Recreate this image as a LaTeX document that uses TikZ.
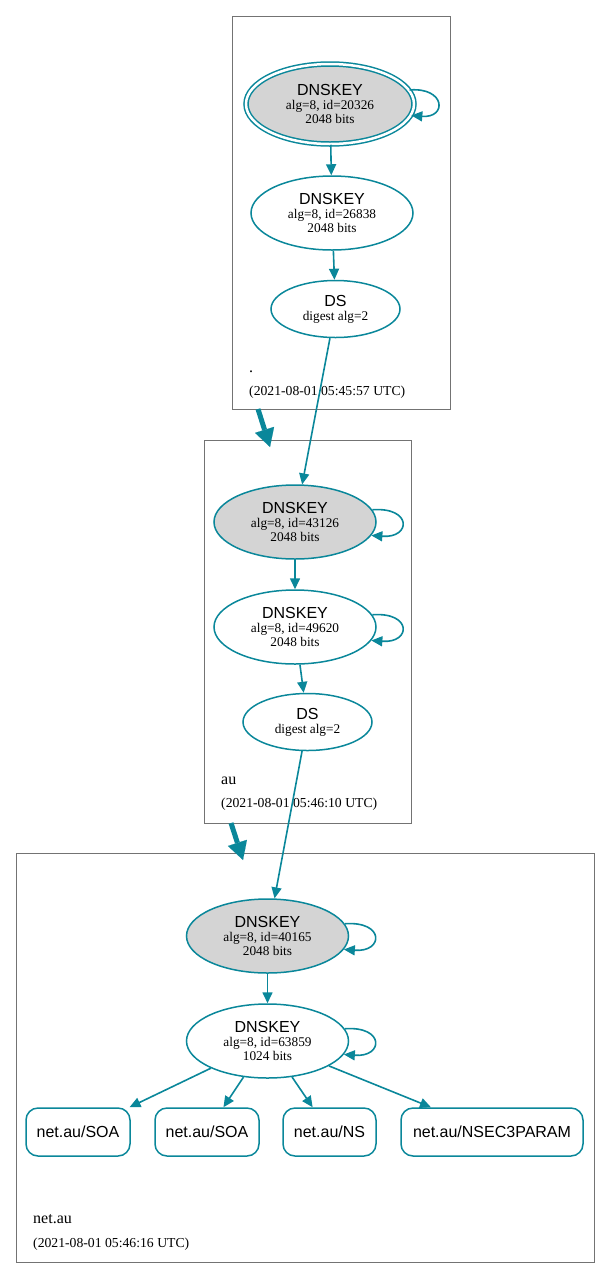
\documentclass[tikz,border=0pt]{standalone}
\usepackage{fontspec}
\setmainfont{Liberation Serif}
\setsansfont{Liberation Sans}
\usepackage{tikz}
\usetikzlibrary{shapes.geometric,arrows.meta}
\definecolor{dnsteal}{RGB}{10,135,154}
\definecolor{zonegray}{RGB}{115,115,115}
\newcommand{\keylabel}[2]{{\sffamily\fontsize{16}{16}\selectfont DNSKEY}\\alg=8, id=#1\\#2 bits}
\newcommand{\dslabel}{{\sffamily\fontsize{16}{16}\selectfont DS}\\digest alg=2}
\tikzset{
	zone/.style={draw=zonegray, line width=0.8pt, rectangle, inner sep=0pt},
	key/.style={ellipse, draw=dnsteal, line width=1.5pt, inner sep=0pt, minimum width=162pt, minimum height=74pt, align=center, font=\fontsize{13.3}{14}\selectfont},
	ksk/.style={key, fill=black!17},
	dsbox/.style={key, minimum width=129pt, minimum height=57pt},
	rrbox/.style={rectangle, rounded corners=12pt, draw=dnsteal, line width=1.5pt, minimum height=48pt, inner sep=0pt, font=\sffamily\fontsize{16}{16}\selectfont},
	zonename/.style={anchor=base west, inner sep=0pt, font=\fontsize{16}{16}\selectfont},
	zonetime/.style={anchor=base west, inner sep=0pt, font=\fontsize{13.7}{14}\selectfont},
	edge/.style={draw=dnsteal, line width=1.6pt, -{Triangle[length=11pt,width=10pt]}},
	deleg/.style={draw=dnsteal, line width=5pt, -{Triangle[length=18pt,width=20pt,line width=0.1pt]}}
}
\begin{document}
\begin{tikzpicture}[x=1pt, y=-1pt]
	\useasboundingbox (0,0) rectangle (611,1278);
	\node[zone, minimum width=218pt, minimum height=393pt] (rootzone) at (341,212.5) {};
	\node[zone, minimum width=207pt, minimum height=383pt] (auzone) at (307.5,631.5) {};
	\node[zone, minimum width=578pt, minimum height=409pt] (netauzone) at (305,1057.5) {};
	\node[ksk, double, double distance=2.5pt, minimum width=168pt, minimum height=80pt] (k20326) at (330,104) {\keylabel{20326}{2048}};
	\node[key] (k26838) at (332,213) {\keylabel{26838}{2048}};
	\node[dsbox] (dsroot) at (335.5,309) {\dslabel};
	\node[zonename] (rootname) at (249,372) {.};
	\node[zonetime] (roottime) at (249,395) {(2021-08-01 05:45:57 UTC)};
	\node[ksk] (k43126) at (295,522) {\keylabel{43126}{2048}};
	\node[key] (k49620) at (295,627) {\keylabel{49620}{2048}};
	\node[dsbox] (dsau) at (307.5,722) {\dslabel};
	\node[zonename] (auname) at (221,784) {au};
	\node[zonetime] (autime) at (221,807) {(2021-08-01 05:46:10 UTC)};
	\node[ksk] (k40165) at (267.5,936) {\keylabel{40165}{2048}};
	\node[key] (k63859) at (267.5,1041) {\keylabel{63859}{1024}};
	\node[rrbox, minimum width=104pt] (soa1) at (78,1132) {net.au/SOA};
	\node[rrbox, minimum width=104pt] (soa2) at (207,1132) {net.au/SOA};
	\node[rrbox, minimum width=93pt] (ns) at (329.5,1132) {net.au/NS};
	\node[rrbox, minimum width=182pt] (nsec3param) at (492,1132) {net.au/NSEC3PARAM};
	\node[zonename] (netauname) at (33,1223) {net.au};
	\node[zonetime] (netautime) at (33,1247) {(2021-08-01 05:46:16 UTC)};
	\coordinate (rootout) at (258,409);
	\coordinate (auin) at (270,447);
	\coordinate (auout) at (231,823);
	\coordinate (netauin) at (243,860);
	\draw[deleg] (rootout) -- (auin);
	\draw[deleg] (auout) -- (netauin);
	\draw[edge] (k20326.10) .. controls +(36,-3) and +(36,3) .. (k20326.-8);
	\draw[edge] (k20326) -- (k26838);
	\draw[edge] (k26838) -- (dsroot);
	\draw[edge] (dsroot) -- (k43126);
	\draw[edge] (k43126.9) .. controls +(40,-3) and +(40,3) .. (k43126.-10);
	\draw[edge] (k43126) -- (k49620);
	\draw[edge] (k49620.9) .. controls +(40,-3) and +(40,3) .. (k49620.-10);
	\draw[edge] (k49620) -- (dsau);
	\draw[edge] (dsau) -- (k40165);
	\draw[edge] (k40165.9) .. controls +(40,-3) and +(40,3) .. (k40165.-10);
	\draw[edge] (k40165) -- (k63859);
	\draw[edge] (k63859.9) .. controls +(40,-3) and +(40,3) .. (k63859.-10);
	\draw[edge] (k63859) -- (soa1);
	\draw[edge] (k63859) -- (soa2);
	\draw[edge] (k63859) -- (ns);
	\draw[edge] (k63859) -- (nsec3param);
\end{tikzpicture}
\end{document}
